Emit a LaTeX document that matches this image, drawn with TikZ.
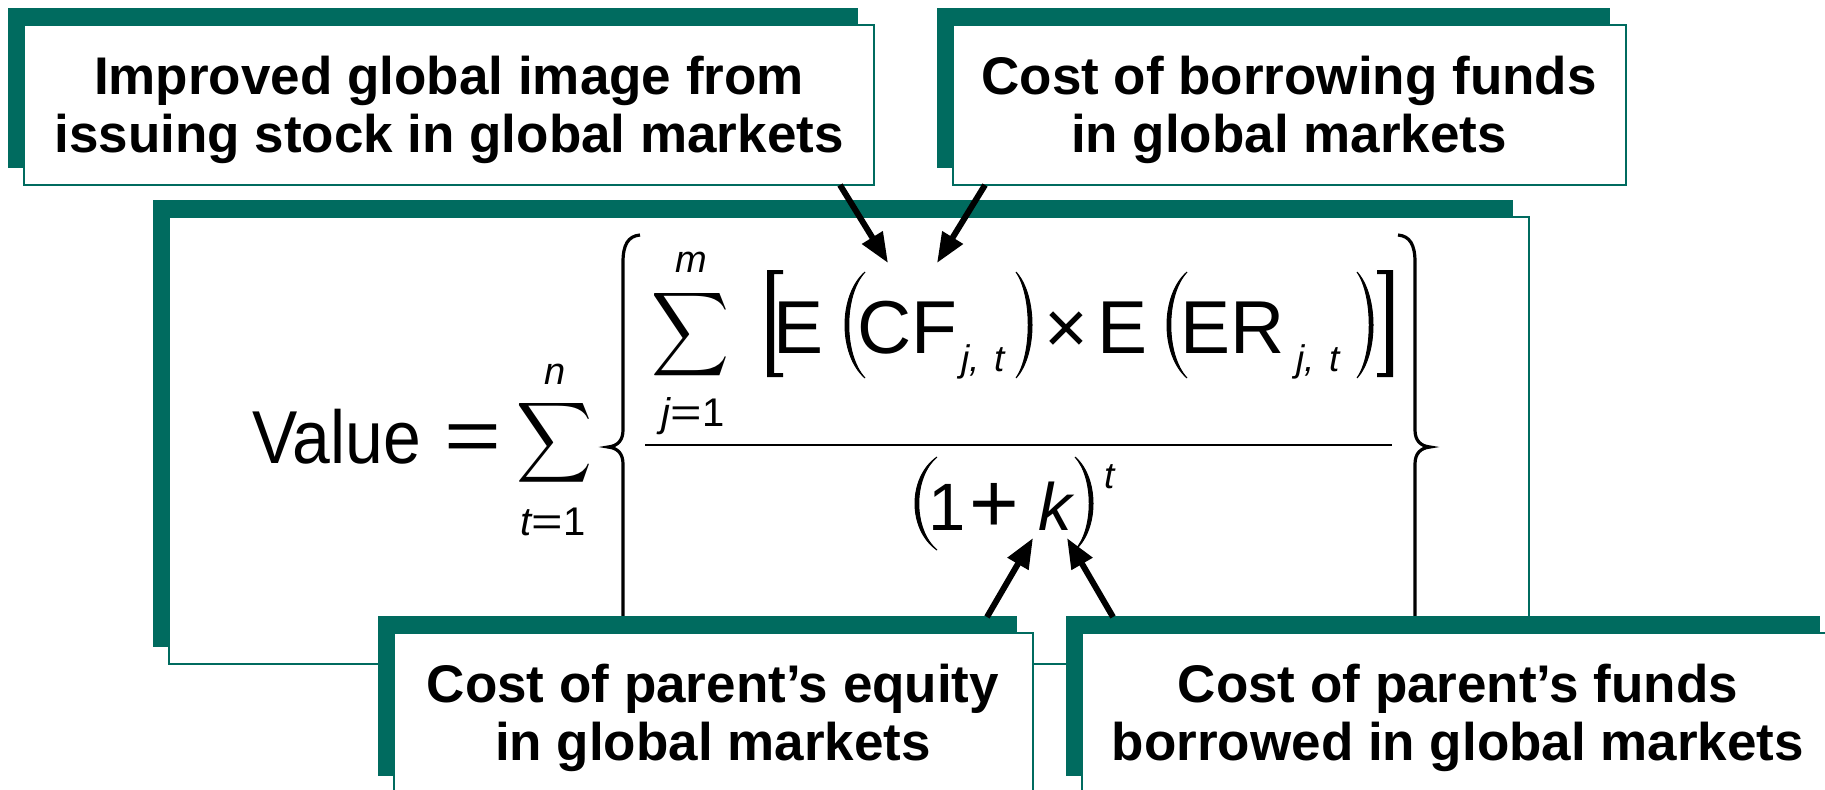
\documentclass[tikz,border=0pt]{standalone}
\usepackage{fontspec}
\usepackage{graphicx}
\setmainfont{Liberation Sans}
\usetikzlibrary{arrows.meta,shadows}
\definecolor{tealc}{RGB}{0,107,95}
\newcommand{\mtparen}[5]{%
  \filldraw[line width=0.5pt] ({#2},{#3}) .. controls ({#2+(#1-#2)*1.333},{#3+(#4-#3)*0.22}) and ({#2+(#1-#2)*1.333},{#4-(#4-#3)*0.22}) .. ({#2},{#4})
   .. controls ({#2+(#1-#2)*1.333+#5},{#4-(#4-#3)*0.22}) and ({#2+(#1-#2)*1.333+#5},{#3+(#4-#3)*0.22}) .. cycle;}
\tikzset{
  card/.style={draw=tealc, line width=1pt, fill=white, inner sep=0pt, minimum height=80pt,
    copy shadow={shadow xshift=-8pt, shadow yshift=8.5pt, fill=tealc, draw=none}},
  cardtext/.style={align=center, inner sep=0pt, font=\fontsize{26.5}{29}\selectfont\bfseries},
  ftext/.style={inner sep=0pt, anchor=base, font=\fontsize{37.5}{40}\selectfont},
  dtext/.style={inner sep=0pt, anchor=base, font=\fontsize{33.5}{36}\selectfont},
  stext/.style={inner sep=0pt, anchor=base, font=\fontsize{18.5}{20}\selectfont\itshape},
  ltext/.style={inner sep=0pt, anchor=base, font=\fontsize{20}{21}\selectfont\itshape},
  ptr/.style={line width=3pt, -{Triangle[length=15pt,width=11.5pt]}},
  brace/.style={line width=1.6pt},
}
\begin{document}
\begin{tikzpicture}[x=0.5pt,y=-0.5pt]
\useasboundingbox (0,0) rectangle (1825,789);
\clip (0,0) rectangle (1825,789);

% top cards
\node[card, minimum width=425pt] (tl) at (449,105) {};
\node[cardtext] (tlt) at (449,110.2) {Improved global image from\\issuing stock in global markets};
\node[card, minimum width=336.5pt] (tr) at (1289.5,105) {};
\node[cardtext] (trt) at (1289,110.2) {Cost of borrowing funds\\in global markets};

% main card
\node[card, minimum width=680pt, minimum height=223.5pt,
  copy shadow={shadow xshift=-8.25pt, shadow yshift=8.5pt, fill=tealc, draw=none}] (main) at (849,440.5) {};

% formula
\node[ftext] (value) at (336.5,463) {\scalebox{0.905}[1]{Value}};
\node[ftext, anchor=center] (eq) at (472.5,443.5) {\scalebox{1.3}[1]{=}};
\node[inner sep=0pt] (sumt) at (555,443) {\resizebox*{38pt}{45pt}{$\displaystyle\sum$}};
\node[ltext] (sumtn) at (555,384) {\fontsize{19}{20}\selectfont n};
\node[ltext] (sumtl) at (553,535) {t\upshape\scalebox{1.35}[1]{=}1};
\node[inner sep=0pt] (sumj) at (691,335) {\resizebox*{39pt}{47pt}{$\displaystyle\sum$}};
\node[ltext] (sumjm) at (691,272) {\fontsize{19}{20}\selectfont m};
\node[ltext] (sumjl) at (693,426) {j\upshape\scalebox{1.35}[1]{=}1};

\fill (783,270) -- (767,270) -- (767,377) -- (783,377) -- (783,373) -- (774,373) -- (774,274) -- (783,274) -- cycle;
\node[ftext] (e1) at (799,353) {E};
\mtparen{845}{865}{272}{378}{5}
\node[ftext] (cf) at (907.5,353) {CF};
\node[stext] (cfs) at (983,371) {j,\hspace{7pt}t};
\mtparen{1032}{1016}{272}{378}{-5}
\node[ftext, anchor=center] (times) at (1066.5,333) {×};
\node[ftext] (e2) at (1122,353) {E};
\mtparen{1167}{1187}{272}{378}{5}
\node[ftext] (er) at (1233,353) {ER};
\node[stext] (ers) at (1318,371) {j,\hspace{7pt}t};
\mtparen{1373}{1357}{272}{378}{-5}
\fill (1377,270) -- (1393,270) -- (1393,377) -- (1377,377) -- (1377,373) -- (1386,373) -- (1386,274) -- (1377,274) -- cycle;

\draw[line width=1.4pt] (645,445) -- (1392,445);

\mtparen{915}{937}{457}{550}{5}
\node[dtext] (one) at (947,530) {1};
\node[dtext, anchor=center] (plus) at (994,508) {\fontsize{42.5}{44}\selectfont +};
\node[dtext] (k) at (1055,530) {\itshape k};
\mtparen{1093}{1075}{457}{550}{-5}
\node[stext] (sup) at (1110,488) {t};

% braces
\draw[brace] (640,235) .. controls (628,236) and (623,245) .. (623,262) -- (623,430)
  .. controls (623,440) and (618,446) .. (608,447) .. controls (618,448) and (623,454) .. (623,464) -- (623,660);
\draw[brace] (1398,235) .. controls (1410,236) and (1415,245) .. (1415,262) -- (1415,430)
  .. controls (1415,440) and (1420,446) .. (1430,447) .. controls (1420,448) and (1415,454) .. (1415,464) -- (1415,660);

% bottom cards
\node[card, minimum width=319.5pt] (bl) at (713.5,713) {};
\node[cardtext] (blt) at (713,717.7) {Cost of parent’s equity\\in global markets};
\node[card, minimum width=377pt] (br) at (1459,713) {};
\node[cardtext] (brt) at (1458,717.7) {Cost of parent’s funds\\borrowed in global markets};

% arrows
\coordinate (a1s) at (840,185);
\coordinate (a1e) at (888,263);
\coordinate (a2s) at (985,185);
\coordinate (a2e) at (937,263);
\coordinate (a3s) at (987,617);
\coordinate (a3e) at (1033,538);
\coordinate (a4s) at (1113,617);
\coordinate (a4e) at (1067,538);
\draw[ptr] (a1s) -- (a1e);
\draw[ptr] (a2s) -- (a2e);
\draw[ptr] (a3s) -- (a3e);
\draw[ptr] (a4s) -- (a4e);
\end{tikzpicture}
\end{document}
